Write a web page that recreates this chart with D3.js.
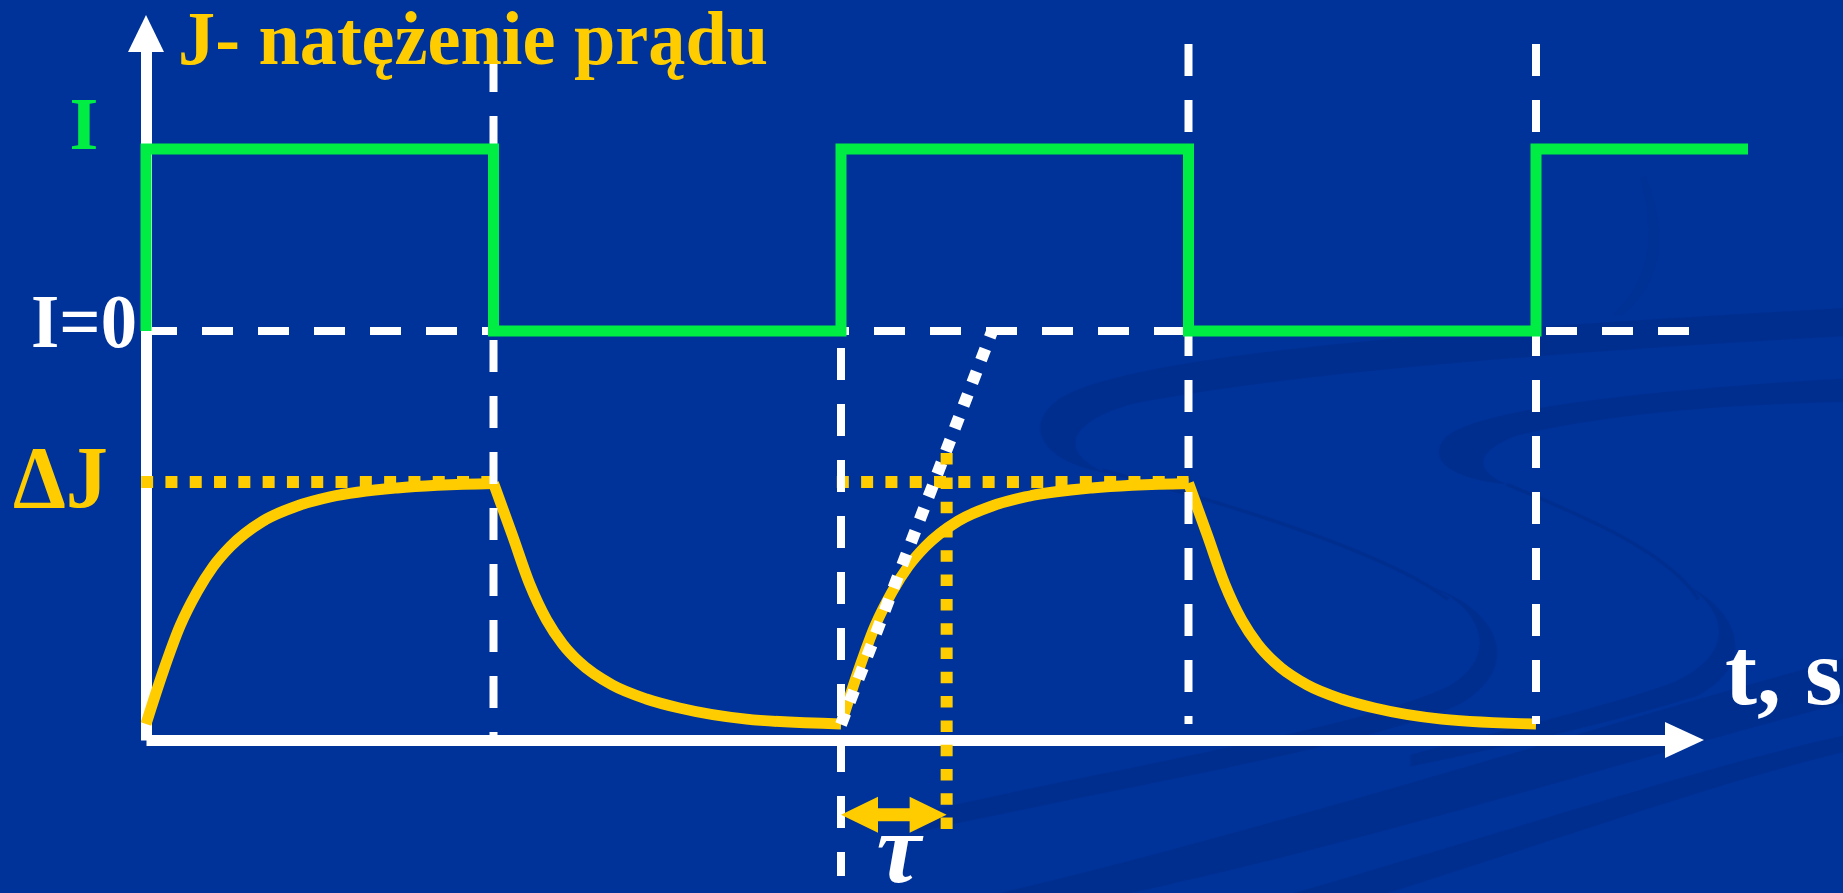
<!DOCTYPE html>
<html>
<head>
<meta charset="utf-8">
<script src="https://cdn.jsdelivr.net/npm/d3@7"></script>
<style>
  html, body { margin: 0; padding: 0; background: #003399; overflow: hidden; }
  svg { display: block; }
  text { font-family: "Liberation Serif", "Times New Roman", serif; font-weight: bold; }
</style>
</head>
<body>
<svg id="chart" width="1843" height="893"></svg>
<script>
// switching instants (in half-periods)
const edgeTimes = [0, 1, 2, 3];
// square wave of the current I (0 = off, 1 = on)
const currentT = [0, 0, 1, 1, 2, 2, 3, 3, 4, 4, 4.61];
const currentI = [0, 1, 1, 0, 0, 1, 1, 0, 0, 1, 1];
// response J after switching on, time measured from the edge (J in units of ΔJ)
const riseT = [0, 0.049, 0.098, 0.147, 0.193, 0.242, 0.337, 0.435, 0.53, 0.722, 1.0];
const riseJ = [0.062, 0.264, 0.442, 0.574, 0.672, 0.749, 0.849, 0.907, 0.942, 0.977, 0.994];
// response J after switching off
const decayT = [0, 0.055, 0.104, 0.153, 0.199, 0.247, 0.342, 0.44, 0.535, 0.728, 1.0];
const decayJ = [0.996, 0.791, 0.605, 0.465, 0.372, 0.302, 0.213, 0.159, 0.124, 0.081, 0.062];
// vertical dashed markers at the edges
const dropT = [1, 2, 3, 4];
const dropTop = [2.636, 1.519, 2.698, 2.698];
const dropBottom = [0, -0.527, 0.062, 0.062];
// ΔJ level segments
const levelFrom = [-0.014, 1.988];
const levelTo = [1, 3];
// tangent at the start of the second rise, and the time constant
const tangentT = [2, 2.435];
const tangentJ = [0.06, 1.585];
const tauT = [2, 2.304];
const tauLineJ = [1.112, -0.349];
const tauArrowJ = -0.29;
// axis extents
const xAxisEndT = 4.377;
const yAxisTopJ = 2.674;
const zeroLineEndT = 4.443;

const svg = d3.select("#chart");
const W = 1843, H = 893;

const x = d3.scaleLinear().domain([0, 4]).range([146, 1536]);
const yJ = d3.scaleLinear().domain([0, 1]).range([740, 482]);
const yI = d3.scaleLinear().domain([0, 1]).range([331, 149]);

svg.append("rect").attr("width", W).attr("height", H).attr("fill", "#003399");

// background swirls of the slide template
const deco = svg.append("g")
  .attr("transform", `scale(${W / 1568})`)
  .attr("fill", "#002a85")
  .attr("opacity", 0.45);
deco.append("path").attr("d", "M1568,262 C1250,280 960,300 900,340 C868,364 890,394 940,402 C902,385 906,360 962,344 C1100,316 1350,298 1568,286 Z");
deco.append("path").attr("d", "M1215,498 C1268,520 1272,562 1232,584 C1150,622 950,652 780,692 L780,708 C950,670 1170,634 1244,598 C1296,566 1276,518 1215,498 Z");
deco.append("path").attr("d", "M1568,322 C1400,332 1250,348 1228,374 C1214,394 1240,408 1282,412 C1254,400 1254,384 1292,370 C1380,350 1480,344 1568,342 Z");
deco.append("path").attr("d", "M1436,498 C1478,528 1468,562 1420,582 C1350,606 1260,626 1200,642 L1200,652 C1280,636 1382,612 1444,592 C1494,566 1482,522 1436,498 Z");
deco.append("path").attr("d", "M850,760 C1100,700 1350,620 1568,560 L1568,598 C1380,648 1150,720 960,760 Z");
deco.append("path").attr("d", "M1100,760 C1300,702 1450,652 1568,626 L1568,640 C1460,666 1320,716 1180,760 Z");
deco.append("path").attr("opacity", 0.35).attr("d", "M1400,150 C1420,200 1415,240 1380,268 L1372,268 C1404,240 1409,200 1396,152 Z");
deco.append("g").attr("fill", "none").attr("stroke", "#002a85").attr("stroke-width", 3)
  .selectAll("path")
  .data(["M938,400 C1050,430 1180,470 1232,510", "M1282,412 C1350,440 1420,470 1445,510"])
  .join("path").attr("d", d => d);

// axes, without ticks
const xa = x.copy().domain([0, xAxisEndT]).range([x(0), x(xAxisEndT)]);
const ya = yJ.copy().domain([0, yAxisTopJ]).range([yJ(0), yJ(yAxisTopJ)]);
const gx = svg.append("g").attr("transform", `translate(0,${yJ(0)})`)
  .call(d3.axisBottom(xa).tickValues([]).tickSizeOuter(0));
const gy = svg.append("g").attr("transform", `translate(${x(0)},0)`)
  .call(d3.axisLeft(ya).tickValues([]).tickSizeOuter(0));
[gx, gy].forEach(g => g.select(".domain").attr("stroke", "#fff").attr("stroke-width", 11));

svg.append("polygon")
  .attr("points", [[x(xAxisEndT) - 2, yJ(0) - 18], [x(xAxisEndT) + 37, yJ(0)], [x(xAxisEndT) - 2, yJ(0) + 18]].join(" "))
  .attr("fill", "#fff");
svg.append("polygon")
  .attr("points", [[x(0) - 18, yJ(yAxisTopJ) + 2], [x(0), yJ(yAxisTopJ) - 35], [x(0) + 18, yJ(yAxisTopJ) + 2]].join(" "))
  .attr("fill", "#fff");

// ΔJ level (yellow dotted)
svg.append("g").selectAll("line")
  .data(levelFrom.map((f, i) => ({ f, t: levelTo[i] })))
  .join("line")
  .attr("x1", d => x(d.f)).attr("x2", d => x(d.t))
  .attr("y1", yJ(1)).attr("y2", yJ(1))
  .attr("stroke", "#ffcc00").attr("stroke-width", 12)
  .attr("stroke-dasharray", "12 12.3");

// I = 0 level (white dashed)
svg.append("line")
  .attr("x1", x(0)).attr("x2", x(zeroLineEndT))
  .attr("y1", yI(0)).attr("y2", yI(0))
  .attr("stroke", "#fff").attr("stroke-width", 8)
  .attr("stroke-dasharray", "31 25");

// response curve J
const line = d3.line().x(d => x(d[0])).y(d => yJ(d[1])).curve(d3.curveMonotoneX);
const segments = [];
edgeTimes.forEach((e, i) => {
  if (i % 2 === 0) segments.push(riseT.map((t, k) => [e + t, riseJ[k]]));
  else segments.push(decayT.map((t, k) => [e + t, decayJ[k]]));
});
svg.append("g").selectAll("path")
  .data(segments)
  .join("path")
  .attr("d", line)
  .attr("fill", "none")
  .attr("stroke", "#ffcc00")
  .attr("stroke-width", 11)
  .attr("stroke-linejoin", "round");

// vertical dashed markers
svg.append("g").selectAll("line")
  .data(dropT.map((t, i) => ({ t, top: dropTop[i], bottom: dropBottom[i] })))
  .join("line")
  .attr("x1", d => x(d.t)).attr("x2", d => x(d.t))
  .attr("y1", d => yJ(d.top)).attr("y2", d => yJ(d.bottom))
  .attr("stroke", "#fff").attr("stroke-width", 8)
  .attr("stroke-dasharray", "32 24");

// current I (green square wave)
svg.append("path")
  .datum(currentT.map((t, i) => [t, currentI[i]]))
  .attr("d", d3.line().x(d => x(d[0])).y(d => yI(d[1])))
  .attr("fill", "none")
  .attr("stroke", "#00ee44")
  .attr("stroke-width", 11)
  .attr("stroke-linejoin", "miter");

// tangent (white dotted)
svg.append("line")
  .attr("x1", x(tangentT[0])).attr("y1", yJ(tangentJ[0]))
  .attr("x2", x(tangentT[1])).attr("y2", yJ(tangentJ[1]))
  .attr("stroke", "#fff").attr("stroke-width", 12)
  .attr("stroke-dasharray", "12 12.4");

// τ marker (yellow dotted vertical)
svg.append("line")
  .attr("x1", x(tauT[1])).attr("x2", x(tauT[1]))
  .attr("y1", yJ(tauLineJ[0])).attr("y2", yJ(tauLineJ[1]))
  .attr("stroke", "#ffcc00").attr("stroke-width", 12)
  .attr("stroke-dasharray", "11.5 12.8");

// τ double arrow
const ax0 = x(tauT[0]), ax1 = x(tauT[1]), ay = yJ(tauArrowJ);
const hl = 37, hh = 18, sh = 6.5;
svg.append("polygon")
  .attr("points", [
    [ax0, ay], [ax0 + hl, ay - hh], [ax0 + hl, ay - sh], [ax1 - hl, ay - sh], [ax1 - hl, ay - hh],
    [ax1, ay], [ax1 - hl, ay + hh], [ax1 - hl, ay + sh], [ax0 + hl, ay + sh], [ax0 + hl, ay + hh]
  ].join(" "))
  .attr("fill", "#ffcc00");

// labels
svg.append("text")
  .attr("x", 178).attr("y", 64)
  .attr("fill", "#ffcc00").attr("font-size", 76)
  .attr("textLength", 590).attr("lengthAdjust", "spacingAndGlyphs")
  .text("J- natężenie prądu");

svg.append("text")
  .attr("x", 84).attr("y", yI(1))
  .attr("text-anchor", "middle")
  .attr("fill", "#00ee44").attr("font-size", 74)
  .text("I");

svg.append("text")
  .attr("x", 31).attr("y", yI(0) + 16)
  .attr("fill", "#fff").attr("font-size", 76)
  .attr("textLength", 106).attr("lengthAdjust", "spacingAndGlyphs")
  .text("I=0");

svg.append("text")
  .attr("x", 13).attr("y", yJ(1) + 25)
  .attr("fill", "#ffcc00").attr("font-size", 88)
  .attr("textLength", 95).attr("lengthAdjust", "spacingAndGlyphs")
  .text("ΔJ");

svg.append("text")
  .attr("x", 1725).attr("y", 704)
  .attr("fill", "#fff").attr("font-size", 96)
  .text("t, s");

svg.append("text")
  .attr("x", x((tauT[0] + tauT[1]) / 2) + 5).attr("y", 882)
  .attr("text-anchor", "middle")
  .attr("fill", "#fff").attr("font-size", 100)
  .style("font-style", "italic")
  .text("τ");
</script>
</body>
</html>
